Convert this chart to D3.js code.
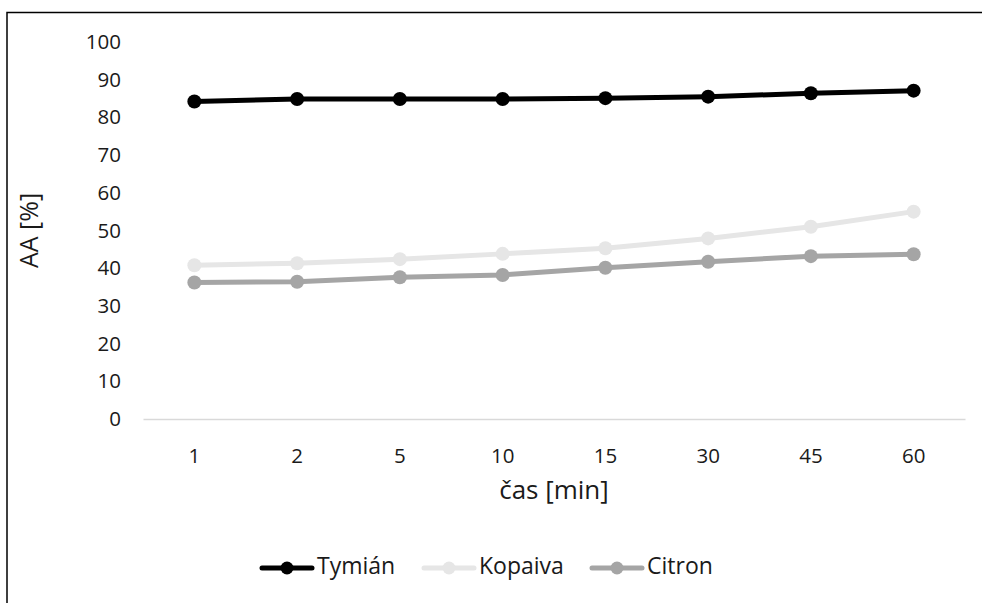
<!DOCTYPE html>
<html>
<head>
<meta charset="utf-8">
<script src="https://cdn.jsdelivr.net/npm/d3@7"></script>
<style>
  html, body { margin: 0; padding: 0; background: #fff; }
  svg { display: block; font-family: "Open Sans", "Noto Sans", sans-serif; }
</style>
</head>
<body>
<svg id="chart" width="982" height="603"></svg>
<script>
// Time points (minutes) on the category axis
const times = ["1", "2", "5", "10", "15", "30", "45", "60"];
// AA [%] for each essential oil
const tymian  = [84.2, 84.9, 84.9, 84.9, 85.1, 85.5, 86.4, 87.1];
const kopaiva = [40.8, 41.3, 42.4, 43.8, 45.3, 47.9, 51.0, 55.0];
const citron  = [36.2, 36.4, 37.6, 38.2, 40.1, 41.7, 43.2, 43.7];
const yTicks  = [0, 10, 20, 30, 40, 50, 60, 70, 80, 90, 100];

const seriesNames  = ["Tymián", "Kopaiva", "Citron"];
const seriesValues = [tymian, kopaiva, citron];
const seriesColors = ["#000000", "#e6e6e6", "#a5a5a5"];

const FONT = "Open Sans, Noto Sans, sans-serif";
const svg = d3.select("#chart");

// outer frame
svg.append("rect")
  .attr("x", 7).attr("y", 12.5)
  .attr("width", 990).attr("height", 620)
  .attr("fill", "none").attr("stroke", "#000").attr("stroke-width", 1.5);

const plot = { left: 143, right: 965, top: 42, bottom: 419 };

const x = d3.scaleBand().domain(times).range([plot.left, plot.right]).padding(0);
const y = d3.scaleLinear().domain([0, 100]).range([plot.bottom, plot.top]);

// y tick labels (no axis line)
const yAxis = svg.append("g")
  .attr("transform", `translate(${plot.left},0)`)
  .call(d3.axisLeft(y).tickValues(yTicks).tickSize(0).tickPadding(22));
yAxis.attr("font-size", 20.5).attr("font-family", FONT);
yAxis.select(".domain").remove();
yAxis.selectAll("text").attr("fill", "#1a1a1a");

// category axis: baseline + labels
const xAxis = svg.append("g")
  .attr("transform", `translate(0,${plot.bottom})`)
  .call(d3.axisBottom(x).tickSize(0).tickPadding(29));
xAxis.attr("font-size", 20.5).attr("font-family", FONT);
xAxis.select(".domain").attr("stroke", "#d9d9d9").attr("stroke-width", 1.5);
xAxis.selectAll("text").attr("fill", "#1a1a1a");

// axis titles
svg.append("text")
  .attr("transform", `translate(31,${(plot.top + plot.bottom) / 2}) rotate(-90)`)
  .attr("text-anchor", "middle").attr("dominant-baseline", "middle")
  .attr("font-family", FONT).attr("font-size", 25).attr("fill", "#1a1a1a")
  .text("AA [%]");

svg.append("text")
  .attr("x", (plot.left + plot.right) / 2).attr("y", 492)
  .attr("text-anchor", "middle").attr("dominant-baseline", "middle")
  .attr("font-family", FONT).attr("font-size", 26).attr("fill", "#1a1a1a")
  .text("čas [min]");

// series lines and markers
const line = d3.line()
  .x((d, i) => x(times[i]) + x.bandwidth() / 2)
  .y(d => y(d));

// draw Citron first, then Kopaiva, then Tymián on top
[2, 1, 0].forEach(k => {
  const g = svg.append("g");
  g.append("path")
    .datum(seriesValues[k])
    .attr("d", line)
    .attr("fill", "none")
    .attr("stroke", seriesColors[k])
    .attr("stroke-width", 5)
    .attr("stroke-linejoin", "round")
    .attr("stroke-linecap", "round");
  g.selectAll("circle")
    .data(seriesValues[k])
    .join("circle")
    .attr("cx", (d, i) => x(times[i]) + x.bandwidth() / 2)
    .attr("cy", d => y(d))
    .attr("r", 7)
    .attr("fill", seriesColors[k]);
});

// legend
const legendX = [262, 424, 592];
const legendY = 568;
seriesNames.forEach((name, k) => {
  const lx = legendX[k];
  const g = svg.append("g");
  g.append("line")
    .attr("x1", lx).attr("x2", lx + 50)
    .attr("y1", legendY).attr("y2", legendY)
    .attr("stroke", seriesColors[k]).attr("stroke-width", 5)
    .attr("stroke-linecap", "round");
  g.append("circle")
    .attr("cx", lx + 25).attr("cy", legendY).attr("r", 6.5)
    .attr("fill", seriesColors[k]);
  g.append("text")
    .attr("x", lx + 55).attr("y", legendY)
    .attr("dominant-baseline", "middle")
    .attr("font-family", FONT).attr("font-size", 23).attr("fill", "#1a1a1a")
    .text(name);
});
</script>
</body>
</html>
